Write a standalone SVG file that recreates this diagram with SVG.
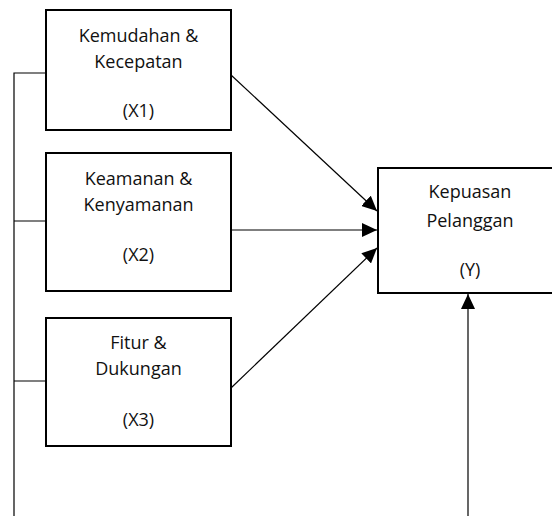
<svg xmlns="http://www.w3.org/2000/svg" width="552" height="516" viewBox="0 0 552 516">
<style>
.box{fill:#fff;stroke:#000;stroke-width:2}
.t{font-family:"Open Sans","Liberation Sans",sans-serif;font-size:18px;fill:#111;text-anchor:middle}
.c{fill:none;stroke:#000;stroke-width:1.2}
</style>
<defs>
<marker id="ah" markerUnits="userSpaceOnUse" markerWidth="16" markerHeight="14" refX="15" refY="7" orient="auto">
<path d="M0,0 L15,7 L0,14 Z" fill="#000"/>
</marker>
</defs>
<rect width="552" height="516" fill="#fff"/>
<g id="connectors">
<path class="c" d="M14,516 V73 H46 M14,221 H46 M14,381 H46"/>
<line class="c" x1="231" y1="75" x2="377" y2="211" marker-end="url(#ah)"/>
<line class="c" x1="231" y1="230" x2="377" y2="230" marker-end="url(#ah)"/>
<line class="c" x1="231" y1="388" x2="377" y2="248" marker-end="url(#ah)"/>
<line class="c" x1="468" y1="516" x2="468" y2="294" marker-end="url(#ah)"/>
</g>
<g id="x1">
<rect class="box" x="46" y="10" width="185" height="120"/>
<text class="t" x="138.5" y="42">Kemudahan &amp;</text>
<text class="t" x="138.5" y="68">Kecepatan</text>
<text class="t" x="138.5" y="117">(X1)</text>
</g>
<g id="x2">
<rect class="box" x="46" y="153" width="185" height="138"/>
<text class="t" x="138.5" y="185">Keamanan &amp;</text>
<text class="t" x="138.5" y="211">Kenyamanan</text>
<text class="t" x="138.5" y="261">(X2)</text>
</g>
<g id="x3">
<rect class="box" x="46" y="318" width="185" height="128"/>
<text class="t" x="138.5" y="349">Fitur &amp;</text>
<text class="t" x="138.5" y="375">Dukungan</text>
<text class="t" x="138.5" y="426">(X3)</text>
</g>
<g id="y">
<rect class="box" x="378" y="168" width="185" height="125"/>
<text class="t" x="470" y="198">Kepuasan</text>
<text class="t" x="470" y="227">Pelanggan</text>
<text class="t" x="470" y="276">(Y)</text>
</g>
</svg>
